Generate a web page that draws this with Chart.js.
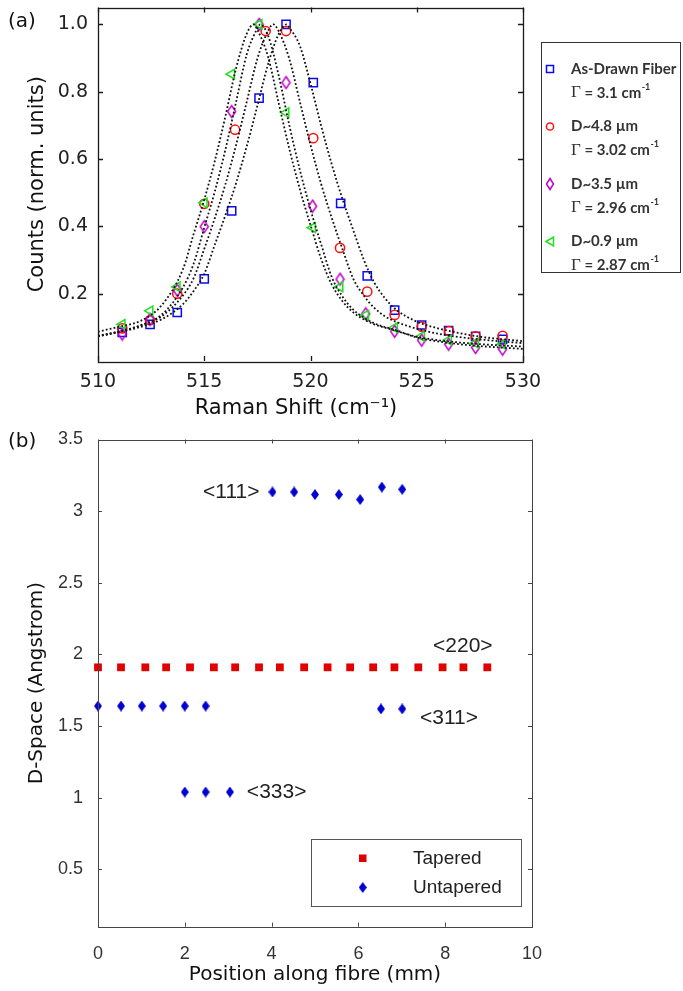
<!DOCTYPE html>
<html><head><meta charset="utf-8">
<script src="https://cdn.jsdelivr.net/npm/chart.js@4.4.1/dist/chart.umd.min.js"></script>
<style>
html,body{margin:0;padding:0;background:#fff;width:683px;height:991px;overflow:hidden;position:relative;}
canvas{position:absolute;left:0;}
#c1{top:0;}
#c2{top:430px;}
.lab{position:absolute;font-family:"DejaVu Sans";font-size:20px;color:#111;line-height:24px;}
</style></head><body>
<canvas id="c1" width="683" height="430"></canvas>
<canvas id="c2" width="683" height="561"></canvas>
<div class="lab" style="left:8px;top:8px">(a)</div>
<div class="lab" style="left:8px;top:428px">(b)</div>
<script>
// ---------- (a) Raman spectra ----------
const ramanTicks = [510, 515, 520, 525, 530];
const countTicks = [0.2, 0.4, 0.6, 0.8, 1.0];
const seriesNames = ['As-Drawn Fiber', 'D~4.8 \u00b5m', 'D~3.5 \u00b5m', 'D~0.9 \u00b5m'];
const gammaValues = ['3.1', '3.02', '2.96', '2.87'];

const asDrawnX = [511.14, 512.45, 513.73, 515.0, 516.29, 517.58, 518.85, 520.13, 521.42, 522.67, 523.96, 525.23, 526.5, 527.77, 529.04];
const asDrawnY = [0.085, 0.109, 0.144, 0.244, 0.446, 0.781, 1.0, 0.827, 0.468, 0.253, 0.151, 0.107, 0.09, 0.073, 0.064];
const d48X = [511.14, 512.45, 513.73, 515.0, 516.45, 517.89, 518.85, 520.13, 521.39, 522.67, 523.96, 525.23, 526.52, 527.77, 529.04];
const d48Y = [0.097, 0.121, 0.2, 0.467, 0.687, 0.98, 0.98, 0.662, 0.336, 0.206, 0.137, 0.102, 0.089, 0.073, 0.075];
const d35X = [511.14, 512.45, 513.73, 515.0, 516.29, 517.58, 518.85, 520.1, 521.39, 522.6, 523.96, 525.23, 526.5, 527.77, 529.04];
const d35Y = [0.080, 0.124, 0.21, 0.399, 0.741, 1.0, 0.827, 0.46, 0.243, 0.14, 0.088, 0.062, 0.05, 0.04, 0.035];
const d09X = [511.14, 512.45, 513.73, 515.0, 516.29, 517.58, 518.85, 520.1, 521.39, 522.6, 523.96, 525.23, 526.5, 527.77, 529.04];
const d09Y = [0.109, 0.149, 0.22, 0.47, 0.852, 1.0, 0.738, 0.396, 0.22, 0.136, 0.099, 0.073, 0.062, 0.053, 0.05];

// fitted curves
const fitX = [510, 511, 512, 513, 514, 514.5, 515, 515.5, 516, 516.5, 517, 517.5, 518, 518.5, 519, 519.5, 520, 520.5, 521, 521.5, 522, 522.5, 523, 523.5, 524, 525, 526, 527, 528, 529, 530];
const fitPeakX = [518.88, 518.25, 517.63, 517.32];
const fitAsDrawn = [0.074,0.086,0.101,0.124,0.169,0.208,0.259,0.346,0.434,0.529,0.638,0.758,0.881,0.971,0.991,0.936,0.824,0.699,0.584,0.482,0.391,0.302,0.233,0.187,0.154,0.117,0.097,0.083,0.072,0.065,0.059];
const fitD48 = [0.075,0.088,0.105,0.133,0.195,0.246,0.333,0.425,0.526,0.642,0.770,0.898,0.980,0.980,0.898,0.770,0.642,0.526,0.425,0.333,0.246,0.195,0.158,0.133,0.117,0.096,0.081,0.071,0.064,0.058,0.053];
const fitD35 = [0.073,0.087,0.106,0.138,0.219,0.289,0.396,0.504,0.629,0.770,0.911,0.988,0.967,0.849,0.701,0.567,0.450,0.347,0.249,0.192,0.153,0.129,0.112,0.101,0.092,0.070,0.058,0.050,0.044,0.040,0.036];
const fitD09 = [0.087,0.102,0.119,0.166,0.273,0.377,0.479,0.595,0.728,0.870,0.972,0.984,0.904,0.767,0.631,0.510,0.404,0.303,0.227,0.178,0.145,0.124,0.109,0.099,0.090,0.072,0.062,0.055,0.050,0.046,0.043];

// ---------- (b) D-spacing ----------
const posTicks = [0, 2, 4, 6, 8, 10];
const dTicks = [0.5, 1, 1.5, 2, 2.5, 3, 3.5];
const taperedPos = [0, 0.53, 1.09, 1.57, 2.12, 2.67, 3.16, 3.71, 4.19, 4.75, 5.29, 5.81, 6.34, 6.83, 7.38, 7.94, 8.42, 8.97];
const taperedD = [1.91, 1.91, 1.91, 1.91, 1.91, 1.91, 1.91, 1.91, 1.91, 1.91, 1.91, 1.91, 1.91, 1.91, 1.91, 1.91, 1.91, 1.91];
const untaperedPos = [0, 0.53, 1.01, 1.5, 2.0, 2.48, 2.0, 2.48, 3.04, 4.02, 4.52, 5.0, 5.55, 6.04, 6.54, 7.01, 6.52, 7.01];
const untaperedD = [1.64, 1.64, 1.64, 1.64, 1.64, 1.64, 1.04, 1.04, 1.04, 3.134, 3.134, 3.116, 3.116, 3.081, 3.168, 3.152, 1.62, 1.62];
const annoText = ['<111>', '<220>', '<311>', '<333>'];
const annoX = [2.42, 7.72, 7.42, 3.43];
const annoY = [3.13, 2.06, 1.553, 1.04];

// ---------- helpers ----------
function pts(xs, ys) { return xs.map((x, i) => ({x: x, y: ys[i]})); }
function fitPts(ys, peak) {
  const a = pts(fitX, ys);
  a.push({x: peak, y: 1.0});
  a.sort((p, q) => p.x - q.x);
  return a;
}
function diamond(w, h, stroke, fill, lw) {
  const c = document.createElement('canvas');
  c.width = Math.ceil(w + lw * 2); c.height = Math.ceil(h + lw * 2);
  const g = c.getContext('2d');
  g.beginPath();
  g.moveTo(c.width / 2, lw); g.lineTo(c.width - lw, c.height / 2);
  g.lineTo(c.width / 2, c.height - lw); g.lineTo(lw, c.height / 2); g.closePath();
  if (fill) { g.fillStyle = fill; g.fill(); }
  if (stroke) { g.strokeStyle = stroke; g.lineWidth = lw; g.stroke(); }
  return c;
}
const BLUE = '#0a0af0', RED = '#ff1010', MAG = '#c000c8', GRN = '#1ee01e';
const purpleDiamond = diamond(8, 12, MAG, null, 1.5);
const blueDiamondFill = diamond(8, 11, null, '#0000d0', 0);

function noPad(s) { s.paddingTop = 0; s.paddingBottom = 0; s.paddingLeft = 0; s.paddingRight = 0; }

const framePlugin = {
  id: 'frame',
  afterDraw(chart, args, o) {
    const ctx = chart.ctx, a = chart.chartArea;
    const xs = chart.scales.x, ys = chart.scales.y;
    ctx.save();
    ctx.strokeStyle = o.color; ctx.lineWidth = o.lw;
    ctx.beginPath();
    xs.ticks.forEach(t => {
      const p = Math.round(xs.getPixelForValue(t.value)) + 0.5;
      ctx.moveTo(p, a.bottom); ctx.lineTo(p, a.bottom - o.len);
      ctx.moveTo(p, a.top); ctx.lineTo(p, a.top + o.len);
    });
    ys.ticks.forEach(t => {
      const p = Math.round(ys.getPixelForValue(t.value)) + 0.5;
      ctx.moveTo(a.left, p); ctx.lineTo(a.left + o.len, p);
      ctx.moveTo(a.right, p); ctx.lineTo(a.right - o.len, p);
    });
    ctx.stroke();
    ctx.strokeRect(Math.round(a.left) + 0.5, Math.round(a.top) + 0.5, Math.round(a.right - a.left), Math.round(a.bottom - a.top));
    ctx.restore();
  }
};

// legend + x title for (a)
const legendA = {
  id: 'legendA',
  afterDraw(chart) {
    const ctx = chart.ctx;
    ctx.save();
    ctx.fillStyle = '#111';
    ctx.font = '21px "DejaVu Sans"';
    ctx.textAlign = 'center'; ctx.textBaseline = 'middle';
    ctx.fillText('Raman Shift (cm\u207b\u00b9)', 296, 409);
    ctx.strokeStyle = '#333'; ctx.lineWidth = 1;
    ctx.strokeRect(541.5, 42.5, 139, 230);
    const colors = [BLUE, RED, MAG, GRN];
    for (let i = 0; i < 4; i++) {
      const y0 = 69 + i * 57.5, mx = 550;
      ctx.strokeStyle = colors[i]; ctx.lineWidth = 1.5;
      ctx.beginPath();
      if (i === 0) { ctx.rect(mx - 3.5, y0 - 3.5, 7, 7); }
      else if (i === 1) { ctx.arc(mx, y0, 3.6, 0, Math.PI * 2); }
      else if (i === 2) { ctx.moveTo(mx, y0 - 5.5); ctx.lineTo(mx + 3.5, y0); ctx.lineTo(mx, y0 + 5.5); ctx.lineTo(mx - 3.5, y0); ctx.closePath(); }
      else { ctx.moveTo(mx - 4, y0); ctx.lineTo(mx + 3.5, y0 - 4.5); ctx.lineTo(mx + 3.5, y0 + 4.5); ctx.closePath(); }
      ctx.stroke();
      ctx.fillStyle = '#333'; ctx.textAlign = 'left'; ctx.textBaseline = 'middle';
      ctx.font = 'bold 15px Lato';
      ctx.fillText(seriesNames[i], 571, y0);
      const y1 = y0 + 24;
      ctx.font = '17px "Liberation Serif"';
      ctx.fillText('\u0393', 571, y1);
      let x = 571 + ctx.measureText('\u0393').width;
      ctx.font = 'bold 15px Lato';
      const s = ' = ' + gammaValues[i] + ' cm';
      ctx.fillText(s, x, y1);
      x += ctx.measureText(s).width;
      ctx.font = 'bold 9px Lato';
      ctx.fillText('-1', x + 0.5, y1 - 6);
    }
    ctx.restore();
  }
};

const legendB = {
  id: 'legendB',
  afterDraw(chart) {
    const ctx = chart.ctx, xs = chart.scales.x, ys = chart.scales.y;
    ctx.save();
    ctx.fillStyle = '#222';
    ctx.font = '21px "Liberation Sans"';
    ctx.textAlign = 'left'; ctx.textBaseline = 'middle';
    annoText.forEach((t, i) => ctx.fillText(t, xs.getPixelForValue(annoX[i]), ys.getPixelForValue(annoY[i])));
    ctx.strokeStyle = '#555'; ctx.lineWidth = 1;
    ctx.strokeRect(311.5, 409.5, 210, 67);
    ctx.fillStyle = '#e00000';
    ctx.fillRect(359, 424.5, 7.5, 7.5);
    ctx.drawImage(blueDiamondFill, 362.7 - blueDiamondFill.width / 2, 457.5 - blueDiamondFill.height / 2);
    ctx.fillStyle = '#222';
    ctx.font = '19px "Liberation Sans"';
    ctx.fillText('Tapered', 413, 429);
    ctx.fillText('Untapered', 413, 458);
    ctx.restore();
  }
};

Chart.defaults.font.family = '"DejaVu Sans"';

function fitDs(ys, peak) {
  return {type: 'line', data: fitPts(ys, peak), showLine: true, pointRadius: 0, borderColor: '#111', borderWidth: 1.8,
    borderDash: [1.8, 2.2], cubicInterpolationMode: 'monotone', fill: false};
}
function mk(xs, ys, style, color, r, extra) {
  return Object.assign({type: 'scatter', data: pts(xs, ys), pointStyle: style, pointRadius: r, pointBorderColor: color,
    pointBackgroundColor: 'rgba(0,0,0,0)', pointBorderWidth: 1.5, showLine: false, clip: false}, extra || {});
}

new Chart(document.getElementById('c1'), {
  type: 'scatter',
  data: {datasets: [
    fitDs(fitAsDrawn, fitPeakX[0]), fitDs(fitD48, fitPeakX[1]), fitDs(fitD35, fitPeakX[2]), fitDs(fitD09, fitPeakX[3]),
    mk(d09X, d09Y, 'triangle', GRN, 5.5, {pointRotation: -90}),
    mk(d35X, d35Y, purpleDiamond, MAG, 6),
    mk(d48X, d48Y, 'circle', RED, 4.6),
    mk(asDrawnX, asDrawnY, 'rect', BLUE, 5.8)
  ]},
  options: {
    responsive: false, animation: false, events: [],
    layout: {padding: {left: 0, top: 6, right: 160, bottom: 0}},
    plugins: {legend: {display: false}, tooltip: {enabled: false}, frame: {color: '#1a1a1a', lw: 1.3, len: 5}},
    scales: {
      x: {type: 'linear', min: 510, max: 530,
        afterBuildTicks: s => { s.ticks = ramanTicks.map(v => ({value: v})); },
        afterFit: s => { s.height = 69; noPad(s); },
        grid: {display: false, drawTicks: false}, border: {display: false},
        ticks: {padding: 10, color: '#222', font: {family: '"DejaVu Sans"', size: 19}, maxRotation: 0}},
      y: {type: 'linear', min: 0, max: 1.05,
        afterBuildTicks: s => { s.ticks = countTicks.map(v => ({value: v})); },
        afterFit: s => { s.width = 98; noPad(s); },
        grid: {display: false, drawTicks: false}, border: {display: false},
        ticks: {padding: 10, color: '#222', font: {family: '"DejaVu Sans"', size: 19}, callback: v => Number(v).toFixed(1)},
        title: {display: true, text: 'Counts (norm. units)', color: '#111', font: {family: '"DejaVu Sans"', size: 21}, padding: {top: 25, bottom: 0}}}
    }
  },
  plugins: [framePlugin, legendA]
});

new Chart(document.getElementById('c2'), {
  type: 'scatter',
  data: {datasets: [
    {data: pts(taperedPos, taperedD), pointStyle: 'rect', pointRadius: 5.5, pointBackgroundColor: '#e00000', pointBorderWidth: 0, pointBorderColor: '#e00000', clip: false},
    {data: pts(untaperedPos, untaperedD), pointStyle: blueDiamondFill, pointRadius: 5, pointBackgroundColor: '#0000d0', pointBorderWidth: 0, clip: false}
  ]},
  options: {
    responsive: false, animation: false, events: [],
    layout: {padding: {left: 0, top: 9.5, right: 151, bottom: 0}},
    plugins: {legend: {display: false}, tooltip: {enabled: false}, frame: {color: '#444', lw: 1, len: 4}},
    scales: {
      x: {type: 'linear', min: 0, max: 10,
        afterBuildTicks: s => { s.ticks = posTicks.map(v => ({value: v})); },
        afterFit: s => { s.height = 64.3; noPad(s); },
        grid: {display: false, drawTicks: false}, border: {display: false},
        ticks: {padding: 17, color: '#333', font: {family: '"Liberation Sans"', size: 18}, maxRotation: 0, callback: v => String(v)},
        title: {display: true, text: 'Position along fibre (mm)', color: '#111', font: {family: '"DejaVu Sans"', size: 20}, padding: {top: 0, bottom: 4}}},
      y: {type: 'linear', min: 0.1, max: 3.5,
        afterBuildTicks: s => { s.ticks = dTicks.map(v => ({value: v})); },
        afterFit: s => { s.width = 98; noPad(s); },
        grid: {display: false, drawTicks: false}, border: {display: false},
        ticks: {padding: 15, color: '#333', font: {family: '"Liberation Sans"', size: 18}, callback: v => String(v)},
        title: {display: true, text: 'D-Space (Angstrom)', color: '#111', font: {family: '"DejaVu Sans"', size: 20}, padding: {top: 25, bottom: 0}}}
    }
  },
  plugins: [framePlugin, legendB]
});
</script>
</body></html>
